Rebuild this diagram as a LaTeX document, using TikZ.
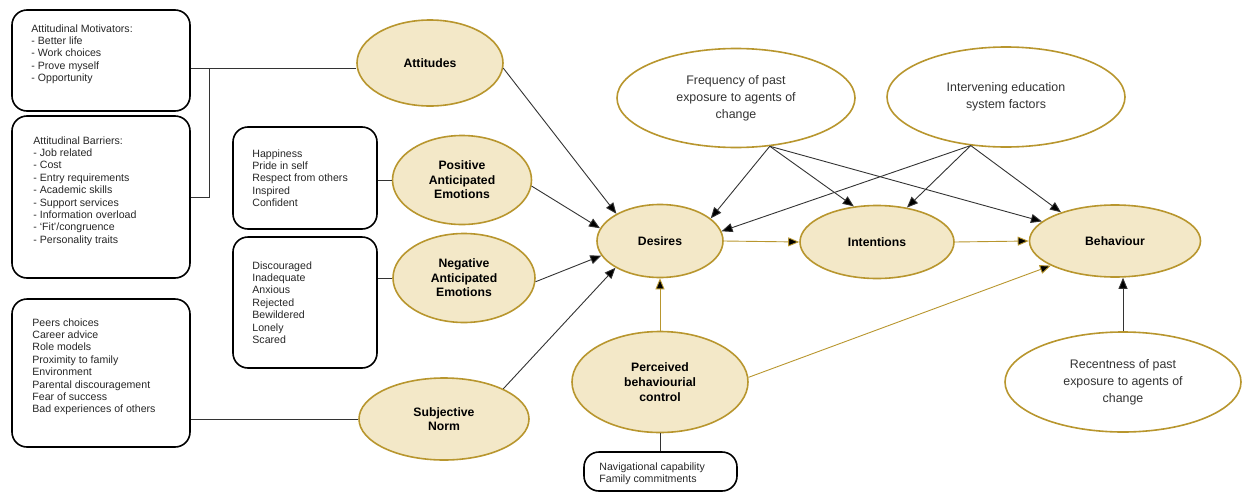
\documentclass[tikz,border=0pt]{standalone}
\usepackage{fontspec}
\setmainfont{Liberation Sans}
\usepackage{xcolor}
\usetikzlibrary{
    arrows.meta,
    shapes.geometric,
    calc
}
\definecolor{goldline}{HTML}{B8962E}
\definecolor{goldfill}{HTML}{F3E8C8}

\begin{document}
\begin{tikzpicture}[x=1pt, y=-1pt,
        box/.style={draw, line width=1.6pt, rounded corners=15pt, inner sep=0pt},
        boxtext/.style={anchor=north west, inner sep=0pt, align=left,
            font=\fontsize{10.6}{12.4}\selectfont, text=black!85},
        construct/.style={ellipse, draw=goldline, fill=goldfill, line width=1.6pt,
            inner sep=0pt, align=center, font=\bfseries\fontsize{12.2}{14.5}\selectfont},
        factor/.style={ellipse, draw=goldline, fill=white, line width=1.6pt,
            inner sep=0pt, align=center, font=\fontsize{12.4}{17}\selectfont, text=black!80},
        link/.style={draw=black!80, line width=0.9pt},
        goldlink/.style={draw=goldline, line width=0.9pt},
        pointer/.style={-{Triangle[length=11pt,width=9pt]}}
    ]
                        \clip (0,0) rectangle (1243,493);

                        % left hand boxes
                        \node[box, minimum width=178, minimum height=101] (motbox) at (101,60.5) {};
                        \node[box, minimum width=178, minimum height=162] (barbox) at (101,197) {};
                        \node[box, minimum width=144, minimum height=102] (posbox) at (305,178) {};
                        \node[box, minimum width=144, minimum height=131] (negbox) at (305,302.5) {};
                        \node[box, minimum width=178, minimum height=148] (subbox) at (101,373) {};
                        \node[box, minimum width=153, minimum height=39] (navbox) at (660.5,471.5) {};

                        \node[boxtext] (mottext) at ([shift={(20,15)}]motbox.north west)
                            {Attitudinal Motivators:\\- Better life\\- Work choices\\- Prove myself\\- Opportunity};
                        \node[boxtext] (bartext) at ([shift={(22,21)}]barbox.north west)
                            {Attitudinal Barriers:\\- Job related\\- Cost\\- Entry requirements\\- Academic skills\\- Support services\\- Information overload\\- `Fit'/congruence\\- Personality traits};
                        \node[boxtext] (postext) at ([shift={(20,23)}]posbox.north west)
                            {Happiness\\Pride in self\\Respect from others\\Inspired\\Confident};
                        \node[boxtext] (negtext) at ([shift={(20,25)}]negbox.north west)
                            {Discouraged\\Inadequate\\Anxious\\Rejected\\Bewildered\\Lonely\\Scared};
                        \node[boxtext] (subtext) at ([shift={(21,20)}]subbox.north west)
                            {Peers choices\\Career advice\\Role models\\Proximity to family\\Environment\\Parental discouragement\\Fear of success\\Bad experiences of others};
                        \node[boxtext] (navtext) at ([shift={(16,11)}]navbox.north west)
                            {Navigational capability\\Family commitments};

                        % constructs
                        \node[construct, minimum width=146, minimum height=86] (att) at (430,63) {Attitudes};
                        \node[construct, minimum width=139, minimum height=89] (posemo) at (462,180) {Positive\\Anticipated\\Emotions};
                        \node[construct, minimum width=142, minimum height=89] (negemo) at (464,278) {Negative\\Anticipated\\Emotions};
                        \node[construct, minimum width=170, minimum height=82] (subnorm) at (444,419) {Subjective\\Norm};
                        \node[construct, minimum width=126, minimum height=73] (des) at (660,241) {Desires};
                        \node[construct, minimum width=154, minimum height=73] (int) at (877,242) {Intentions};
                        \node[construct, minimum width=171, minimum height=72] (beh) at (1115,241) {Behaviour};
                        \node[construct, minimum width=176, minimum height=101, font=\bfseries\fontsize{12.2}{15}\selectfont]
                            (pbc) at (660,382) {Perceived\\behaviourial\\control};

                        \node[factor, minimum width=238, minimum height=99] (freq) at (736,98) {Frequency of past\\exposure to agents of\\change};
                        \node[factor, minimum width=238, minimum height=100] (ies) at (1006,97) {Intervening education\\system factors};
                        \node[factor, minimum width=236, minimum height=100] (rec) at (1123,382) {Recentness of past\\exposure to agents of\\change};

                        % plain links
                        \coordinate (brk) at (209,68);
                        \draw[link] (motbox.east |- brk) -- (brk) -- (brk |- barbox.east) -- (barbox.east);
                        \draw[link] (brk) -- (brk -| att.west);
                        \draw[link] (posemo.west) -- (posemo.west -| posbox.east);
                        \draw[link] (negemo.west) -- (negemo.west -| negbox.east);
                        \draw[link] (subnorm.west) -- (subnorm.west -| subbox.east);
                        \draw[link] (pbc.south) -- (pbc.south |- navbox.north);

                        % arrows
                        \draw[link]
                        (att.-4) edge[pointer] (des.148)
                        (posemo.-5) edge[pointer] (des.168)
                        (negemo.-3) edge[pointer] (des.194)
                        (subnorm.27) edge[pointer] (des.211)
                        (freq.-55) edge[pointer] (des.24)
                        (freq.-55) edge[pointer] (int.123)
                        (freq.-55) edge[pointer] (beh.165)
                        (ies.-126) edge[pointer] (des.9)
                        (ies.-126) edge[pointer] (int.49)
                        (ies.-126) edge[pointer] (beh.152)
                        (rec.north) edge[pointer] (rec.north |- beh.south);

                        \draw[goldlink]
                        (des.east) edge[pointer] (int.west)
                        (int.east) edge[pointer] (beh.west)
                        (pbc.north) edge[pointer] (des.south)
                        (pbc.3) edge[pointer] (beh.201);
                    \end{tikzpicture}
\end{document}
